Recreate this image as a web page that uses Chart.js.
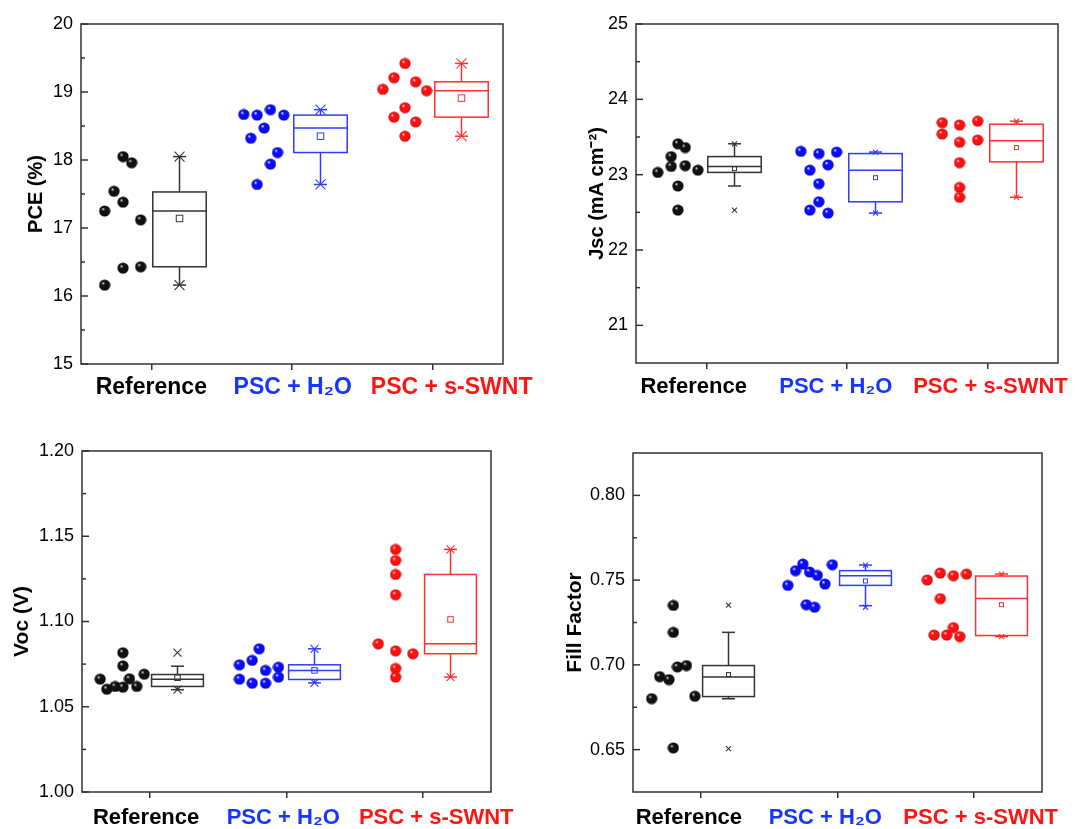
<!DOCTYPE html>
<html>
<head>
<meta charset="utf-8">
<script src="https://cdn.jsdelivr.net/npm/chart.js@4.4.1/dist/chart.umd.min.js"></script>
<style>
    html, body { margin: 0; padding: 0; background: #fff; }
    canvas { position: absolute; }
</style>
</head>
<body>
<canvas id="pce" width="545" height="415" style="left:0;top:0"></canvas>
<canvas id="jsc" width="534" height="415" style="left:545px;top:0"></canvas>
<canvas id="voc" width="545" height="414" style="left:0;top:415px"></canvas>
<canvas id="ff" width="534" height="414" style="left:545px;top:415px"></canvas>
<script>
const groups = ["Reference", "PSC + H\u2082O", "PSC + s-SWNT"]

// PCE (%)
const pceRefX = [0.799, 0.860, 0.735, 0.799, 0.668, 0.924, 0.799, 0.924, 0.668]
const pceRefY = [18.05, 17.96, 17.54, 17.38, 17.25, 17.12, 16.41, 16.43, 16.16]
const pceH2oX = [1.657, 1.752, 1.847, 1.942, 1.802, 1.707, 1.897, 1.847, 1.752]
const pceH2oY = [18.67, 18.66, 18.74, 18.66, 18.47, 18.32, 18.11, 17.94, 17.64]
const pceSwntX = [2.803, 2.725, 2.879, 2.646, 2.957, 2.803, 2.725, 2.879, 2.803]
const pceSwntY = [19.42, 19.21, 19.15, 19.04, 19.02, 18.77, 18.63, 18.56, 18.35]
// box rows: min, whisker low, q1, median, q3, whisker high, max, mean
const pceBoxes = [
    [16.16, 16.16, 16.43, 17.25, 17.53, 18.05, 18.05, 17.14],
    [17.64, 17.64, 18.11, 18.47, 18.66, 18.74, 18.74, 18.35],
    [18.35, 18.35, 18.63, 19.02, 19.15, 19.42, 19.42, 18.91]
]
const pceTicks = [15, 16, 17, 18, 19, 20]
const pceMinor = [15.5, 16.5, 17.5, 18.5, 19.5]

// Jsc (mA cm-2)
const jscRefX = [0.798, 0.850, 0.750, 0.750, 0.850, 0.655, 0.940, 0.798, 0.798]
const jscRefY = [23.41, 23.36, 23.24, 23.11, 23.12, 23.03, 23.06, 22.85, 22.53]
const jscH2oX = [1.672, 1.800, 1.926, 1.865, 1.736, 1.800, 1.800, 1.736, 1.865]
const jscH2oY = [23.31, 23.28, 23.30, 23.13, 23.06, 22.88, 22.64, 22.53, 22.49]
const jscSwntX = [2.677, 2.800, 2.929, 2.677, 2.800, 2.929, 2.800, 2.800, 2.800]
const jscSwntY = [23.69, 23.66, 23.71, 23.54, 23.43, 23.46, 23.16, 22.83, 22.70]
const jscBoxes = [
    [22.53, 22.85, 23.03, 23.11, 23.24, 23.41, 23.41, 23.08],
    [22.49, 22.49, 22.64, 23.06, 23.28, 23.30, 23.30, 22.96],
    [22.70, 22.70, 23.17, 23.45, 23.67, 23.71, 23.71, 23.36]
]
const jscTicks = [21, 22, 23, 24, 25]
const jscMinor = [21.5, 22.5, 23.5, 24.5]

// Voc (V)
const vocRefX = [0.800, 0.800, 0.956, 0.633, 0.848, 0.682, 0.743, 0.800, 0.902]
const vocRefY = [1.0817, 1.0740, 1.0691, 1.0662, 1.0664, 1.0603, 1.0619, 1.0615, 1.0619]
const vocH2oX = [1.800, 1.655, 1.748, 1.941, 1.846, 1.941, 1.655, 1.748, 1.846]
const vocH2oY = [1.0840, 1.0746, 1.0772, 1.0732, 1.0713, 1.0674, 1.0662, 1.0638, 1.0638]
const vocSwntX = [2.800, 2.800, 2.800, 2.800, 2.673, 2.800, 2.927, 2.800, 2.800]
const vocSwntY = [1.1423, 1.1358, 1.1276, 1.1157, 1.0869, 1.0828, 1.0811, 1.0725, 1.0674]
const vocBoxes = [
    [1.0600, 1.0600, 1.0619, 1.0662, 1.0689, 1.0738, 1.0817, 1.0670],
    [1.0640, 1.0640, 1.0660, 1.0713, 1.0746, 1.0840, 1.0840, 1.0713],
    [1.0674, 1.0674, 1.0811, 1.0869, 1.1276, 1.1423, 1.1423, 1.1012]
]
const vocTicks = [1.00, 1.05, 1.10, 1.15, 1.20]
const vocMinor = [1.025, 1.075, 1.125, 1.175]

// Fill factor
const ffRefX = [0.796, 0.796, 0.696, 0.764, 0.826, 0.892, 0.637, 0.954, 0.796]
const ffRefY = [0.7351, 0.7192, 0.6931, 0.6913, 0.6988, 0.6996, 0.6801, 0.6815, 0.6510]
const ffH2oX = [1.746, 1.962, 1.692, 1.795, 1.852, 1.636, 1.908, 1.771, 1.832]
const ffH2oY = [0.7595, 0.7591, 0.7556, 0.7548, 0.7528, 0.7469, 0.7477, 0.7355, 0.7340]
const ffSwntX = [2.658, 2.754, 2.850, 2.946, 2.754, 2.708, 2.801, 2.850, 2.897]
const ffSwntY = [0.7501, 0.7542, 0.7526, 0.7536, 0.7391, 0.7176, 0.7176, 0.7220, 0.7167]
const ffBoxes = [
    [0.6506, 0.6800, 0.6813, 0.6929, 0.6996, 0.7192, 0.7353, 0.6943],
    [0.7340, 0.7349, 0.7469, 0.7526, 0.7556, 0.7589, 0.7589, 0.7495],
    [0.7167, 0.7167, 0.7173, 0.7391, 0.7524, 0.7536, 0.7536, 0.7355]
]
const ffTicks = [0.65, 0.70, 0.75, 0.80]
const ffMinor = [0.675, 0.725, 0.775]

const labelColors = ["#000000", "#1436ff", "#ff1414"]
const boxColors = ["#333333", "#2f3cff", "#ff3030"]
const BOX_SHIFT = 0.2
const BOX_WIDTH = 0.38

Chart.defaults.font.family = "'Liberation Sans', Arial, sans-serif"
Chart.defaults.color = "#000"

function ballImage(light, base, dark) {
    const c = document.createElement("canvas")
    c.width = c.height = 12
    const g = c.getContext("2d")
    const grad = g.createRadialGradient(4.2, 3.9, 0.2, 6, 6, 5.7)
    grad.addColorStop(0, light)
    grad.addColorStop(0.28, base)
    grad.addColorStop(0.8, base)
    grad.addColorStop(1, dark)
    g.fillStyle = grad
    g.beginPath()
    g.arc(6, 6, 5.6, 0, Math.PI * 2)
    g.fill()
    return c
}

const balls = [
    ballImage("#e6e6e6", "#111111", "#000000"),
    ballImage("#ffffff", "#0a0aff", "#0000a8"),
    ballImage("#ffe6e6", "#ff1010", "#b00000")
]

const boxPlugin = {
    id: "boxes",
    beforeDatasetsDraw(chart, args, o) {
        const { ctx, scales: { x, y } } = chart
        const half = (x.getPixelForValue(BOX_WIDTH) - x.getPixelForValue(0)) / 2
        const line = (x1, y1, x2, y2) => {
            ctx.beginPath(); ctx.moveTo(x1, y1); ctx.lineTo(x2, y2); ctx.stroke()
        }
        o.boxes.forEach((b, i) => {
            const [mn, lo, q1, med, q3, hi, mx, mean] = b.map(v => y.getPixelForValue(v))
            const cx = Math.round(x.getPixelForValue(i + 1 + BOX_SHIFT)) + 0.5
            ctx.save()
            ctx.strokeStyle = boxColors[i]
            ctx.lineWidth = 1.5
            ctx.strokeRect(cx - half, q3, half * 2, q1 - q3)
            line(cx - half, med, cx + half, med)
            line(cx, q3, cx, hi)
            line(cx, q1, cx, lo)
            line(cx - 6.5, hi, cx + 6.5, hi)
            line(cx - 6.5, lo, cx + 6.5, lo)
            ctx.lineWidth = 1.1
            const s = o.cross
            for (const py of [mn, mx]) {
                line(cx - s, py - s, cx + s, py + s)
                line(cx - s, py + s, cx + s, py - s)
            }
            const m = o.mean
            ctx.lineWidth = 1
            ctx.strokeRect(cx - m / 2, mean - m / 2, m, m)
            ctx.restore()
        })
    },
    afterDraw(chart, args, o) {
        const { ctx, chartArea: a, scales: { y } } = chart
        ctx.save()
        ctx.strokeStyle = "#333"
        ctx.lineWidth = 1.5
        ctx.strokeRect(a.left, a.top, a.right - a.left, a.bottom - a.top)
        o.major.forEach(v => {
            const py = y.getPixelForValue(v)
            ctx.beginPath(); ctx.moveTo(a.left, py); ctx.lineTo(a.left + 7, py); ctx.stroke()
        })
        o.minor.forEach(v => {
            const py = y.getPixelForValue(v)
            ctx.beginPath(); ctx.moveTo(a.left, py); ctx.lineTo(a.left + 4, py); ctx.stroke()
        })
        ctx.restore()
    }
}

function makePanel(id, o) {
    new Chart(document.getElementById(id), {
        type: "scatter",
        data: {
            datasets: o.points.map((p, i) => ({
                data: p[0].map((x, j) => ({ x, y: p[1][j] })),
                pointStyle: balls[i],
                pointRadius: 6
            }))
        },
        options: {
            responsive: false,
            animation: false,
            layout: { padding: { left: 0, top: o.top, right: o.right, bottom: 0 } },
            plugins: {
                legend: { display: false },
                tooltip: { enabled: false },
                boxes: { boxes: o.boxes, major: o.ticks, minor: o.minor, cross: o.cross, mean: o.mean }
            },
            scales: {
                x: {
                    type: "linear",
                    min: 0.5,
                    max: 3.5,
                    weight: 0,
                    afterBuildTicks: s => { s.ticks = [1, 2, 3].map(value => ({ value })) },
                    afterFit: s => { s.height = 6; s.paddingLeft = 0; s.paddingRight = 0 },
                    grid: { drawOnChartArea: false, tickLength: 6, color: "#333", lineWidth: 1.5 },
                    border: { display: false },
                    ticks: { display: false }
                },
                // category names sit slightly off the tick marks in the original
                names: {
                    type: "linear",
                    axis: "x",
                    position: "bottom",
                    min: 0.5,
                    max: 3.5,
                    weight: 1,
                    afterBuildTicks: s => { s.ticks = o.labelAt.map(value => ({ value })) },
                    afterFit: s => { s.height = o.xHeight - 6; s.paddingLeft = 0; s.paddingRight = 0 },
                    grid: { display: false, drawTicks: false },
                    border: { display: false },
                    ticks: {
                        callback: (v, i) => groups[i],
                        color: c => labelColors[c.index],
                        font: { size: o.labelSize, weight: "bold" },
                        padding: o.labelPad,
                        maxRotation: 0,
                        autoSkip: false
                    }
                },
                y: {
                    min: o.min,
                    max: o.max,
                    afterBuildTicks: s => { s.ticks = o.ticks.map(value => ({ value })) },
                    afterFit: s => { s.width = o.yWidth; s.paddingTop = 0; s.paddingBottom = 0 },
                    grid: { display: false, drawTicks: false },
                    border: { display: false },
                    ticks: {
                        callback: v => v.toFixed(o.dec),
                        font: { size: 18 },
                        padding: 8
                    },
                    title: {
                        display: true,
                        text: o.title,
                        font: { size: o.titleSize, weight: "bold" },
                        padding: { top: o.titlePad, bottom: 0 }
                    }
                }
            }
        },
        plugins: [boxPlugin]
    })
}

makePanel("pce", {
    points: [[pceRefX, pceRefY], [pceH2oX, pceH2oY], [pceSwntX, pceSwntY]],
    boxes: pceBoxes, ticks: pceTicks, minor: pceMinor,
    min: 15, max: 20, dec: 0, title: "PCE (%)", titleSize: 20,
    top: 24, right: 42, yWidth: 81, xHeight: 51, titlePad: 24, cross: 5, mean: 6.5,
    labelAt: [1.0, 2.005, 3.135], labelSize: 23, labelPad: 4
})

makePanel("jsc", {
    points: [[jscRefX, jscRefY], [jscH2oX, jscH2oY], [jscSwntX, jscSwntY]],
    boxes: jscBoxes, ticks: jscTicks, minor: jscMinor,
    min: 20.5, max: 25, dec: 0, title: "Jsc (mA cm\u207B\u00B2)", titleSize: 20,
    top: 24, right: 21, yWidth: 91, xHeight: 52, titlePad: 40, cross: 2.5, mean: 4,
    labelAt: [0.91, 1.92, 3.02], labelSize: 22, labelPad: 5
})

makePanel("voc", {
    points: [[vocRefX, vocRefY], [vocH2oX, vocH2oY], [vocSwntX, vocSwntY]],
    boxes: vocBoxes, ticks: vocTicks, minor: vocMinor,
    min: 1.00, max: 1.20, dec: 2, title: "Voc (V)", titleSize: 21,
    top: 36, right: 54, yWidth: 82, xHeight: 37, titlePad: 10, cross: 4, mean: 5.5,
    labelAt: [0.97, 1.976, 3.098], labelSize: 22, labelPad: 7
})

makePanel("ff", {
    points: [[ffRefX, ffRefY], [ffH2oX, ffH2oY], [ffSwntX, ffSwntY]],
    boxes: ffBoxes, ticks: ffTicks, minor: ffMinor,
    min: 0.625, max: 0.825, dec: 2, title: "Fill Factor", titleSize: 21,
    top: 38, right: 37, yWidth: 88, xHeight: 37, titlePad: 18, cross: 2.5, mean: 4,
    labelAt: [0.91, 1.91, 3.05], labelSize: 22, labelPad: 7
})
</script>
</body>
</html>
